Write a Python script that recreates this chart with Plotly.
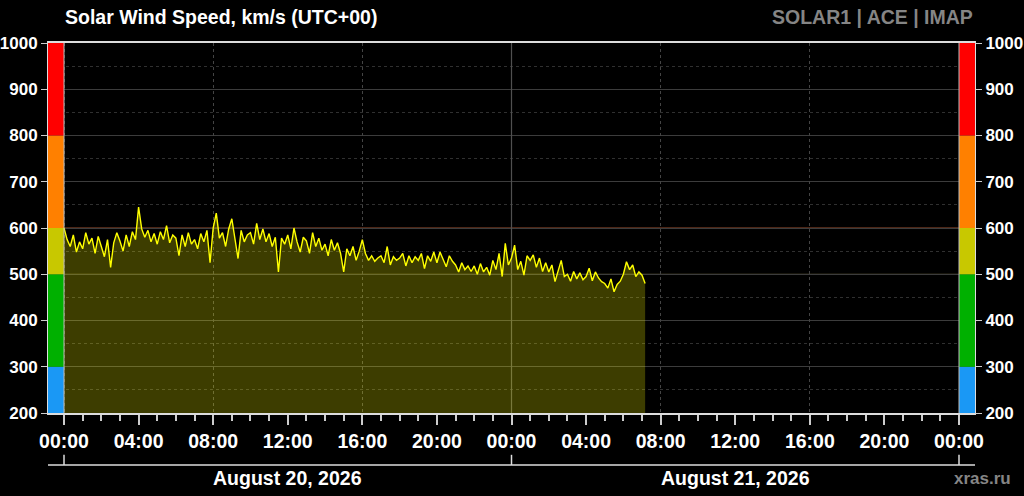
import pandas as pd
import plotly.graph_objects as go

# solar wind speed, km/s, 10-minute samples from 2026-08-20 00:00 UTC
start_time = "2026-08-20 00:00"
speed = [
    600, 575, 560, 585, 548, 570,   # 00h
    555, 590, 565, 578, 545, 582,   # 01h
    560, 538, 575, 515, 568, 590,   # 02h
    572, 550, 585, 560, 592, 575,   # 03h
    645, 598, 580, 595, 570, 588,   # 04h
    565, 592, 575, 605, 568, 585,   # 05h
    578, 540, 585, 560, 590, 565,   # 06h
    575, 555, 588, 570, 595, 525,   # 07h
    600, 632, 578, 590, 560, 598,   # 08h
    620, 575, 534, 595, 570, 585,   # 09h
    590, 565, 610, 575, 598, 570,   # 10h
    588, 560, 580, 505, 578, 565,   # 11h
    585, 555, 600, 570, 548, 580,   # 12h
    572, 545, 590, 560, 578, 552,   # 13h
    565, 540, 575, 552, 568, 545,   # 14h
    505, 555, 540, 560, 530, 550,   # 15h
    575, 545, 530, 540, 528, 535,   # 16h
    540, 525, 560, 520, 538, 530,   # 17h
    535, 545, 518, 540, 525, 538,   # 18h
    530, 545, 512, 540, 528, 548,   # 19h
    525, 548, 530, 516, 540, 528,   # 20h
    520, 505, 525, 510, 518, 506,   # 21h
    518, 500, 523, 505, 515, 498,   # 22h
    530, 510, 545, 495, 567, 520,   # 23h
    535, 563, 510, 528, 498, 540,   # 00h Aug 21
    530, 542, 515, 535, 506, 525,   # 01h
    505, 520, 484, 510, 530, 495,   # 02h
    500, 485, 506, 490, 503, 488,   # 03h
    495, 513, 486, 505, 492, 484,   # 04h
    480, 470, 490, 462, 478, 485,   # 05h
    500, 527, 510, 520, 495, 505,   # 06h
    498, 480,                       # 07h
]
times = pd.date_range(start_time, periods=len(speed), freq="10min")

# speed bands shown as colour bars on both sides
band_lo = [200, 300, 500, 600, 800]
band_hi = [300, 500, 600, 800, 1000]
band_colors = ["#1a98f5", "#00b000", "#c8c800", "#ff8000", "#ff0000"]

# threshold lines drawn in their own colours
level_values = [500, 600, 800]
level_colors = ["#625834", "#9a4c2c", "#9a2222"]

y_ticks = [200, 300, 400, 500, 600, 700, 800, 900, 1000]
days = pd.to_datetime(["2026-08-20", "2026-08-21", "2026-08-22"])
day_labels = ["August 20, 2026", "August 21, 2026"]

pad = pd.Timedelta(minutes=51.5)
x_range = [days[0] - pad, days[-1] + pad]

FONT = "Liberation Sans, Arial"
big_font = dict(family=FONT, size=19.5, color="white", weight="bold")
y_font = dict(family=FONT, size=17, color="white", weight="bold")

fig = go.Figure()

fig.add_trace(go.Scatter(
    x=times, y=speed, mode="lines",
    line=dict(color="#ffff00", width=1.4),
    fill="tozeroy", fillcolor="rgba(255,255,0,0.24)",
    showlegend=False,
))
# dummy trace so the overlay axes (dotted grid / right labels) exist
fig.add_trace(go.Scatter(
    x=[times[0]], y=[None], xaxis="x2", yaxis="y2",
    showlegend=False, hoverinfo="skip",
))

# coloured threshold lines (above the grid, below the data)
for val, col in zip(level_values, level_colors):
    fig.add_shape(type="line", xref="paper", x0=0, x1=1, yref="y", y0=val, y1=val,
                  line=dict(color=col, width=1.2), layer="between")

# solid day boundary line
for d in days[1:-1]:
    fig.add_shape(type="line", xref="x", x0=d, x1=d, yref="y", y0=200, y1=1000,
                  line=dict(color="#505050", width=1.2), layer="between")

# colour bars left and right
for lo, hi, col in zip(band_lo, band_hi, band_colors):
    fig.add_shape(type="rect", xref="x", x0=x_range[0], x1=days[0], yref="y", y0=lo, y1=hi,
                  fillcolor=col, line_width=0, layer="between")
    fig.add_shape(type="rect", xref="x", x0=days[-1], x1=x_range[1], yref="y", y0=lo, y1=hi,
                  fillcolor=col, line_width=0, layer="between")
for d in [days[0], days[-1]]:
    fig.add_shape(type="line", xref="x", x0=d, x1=d, yref="y", y0=200, y1=1000,
                  line=dict(color="#bbbbbb", width=1), layer="above")

# second (date) axis under the hours
date_axis_y = -0.1405
fig.add_shape(type="line", xref="paper", x0=0, x1=1, yref="paper", y0=date_axis_y, y1=date_axis_y,
              line=dict(color="#dddddd", width=1.5))
for d in days:
    fig.add_shape(type="line", xref="x", x0=d, x1=d, yref="paper", y0=date_axis_y, y1=-0.113,
                  line=dict(color="#dddddd", width=1.5))
for d, lab in zip(days[:-1], day_labels):
    fig.add_annotation(x=d + pd.Timedelta(hours=12), xref="x", y=-0.176, yref="paper",
                       text=lab, showarrow=False, yanchor="middle", font=big_font)

fig.add_annotation(x=1, xref="paper", y=1.07, yref="paper", xanchor="right", yanchor="middle",
                   text="SOLAR1 | ACE | IMAP", showarrow=False,
                   font=dict(family=FONT, size=19.5, color="#858585", weight="bold"))
fig.add_annotation(x=1.041, xref="paper", y=-0.176, yref="paper", xanchor="right", yanchor="middle",
                   text="xras.ru", showarrow=False,
                   font=dict(family=FONT, size=17, color="#858585", weight="bold"))

fig.update_layout(
    width=1024, height=496,
    margin=dict(l=48, r=49, t=43, b=83, autoexpand=False),
    paper_bgcolor="black", plot_bgcolor="black",
    title=dict(text="Solar Wind Speed, km/s (UTC+00)", x=65 / 1024, xanchor="left",
               y=1 - 17 / 496, yanchor="middle", font=big_font),
    xaxis=dict(
        type="date", range=x_range, tick0=days[0], dtick=4 * 3600000, tickformat="%H:%M",
        ticks="outside", ticklen=10, tickwidth=1.5, tickcolor="#cccccc",
        minor=dict(dtick=3600000, ticks="outside", ticklen=6, tickcolor="#cccccc", tickwidth=1.5),
        showgrid=False, zeroline=False, automargin=False,
        showline=True, linecolor="#dddddd", linewidth=1.5, mirror=True,
        tickfont=big_font,
    ),
    xaxis2=dict(
        type="date", overlaying="x", matches="x", range=x_range, tick0=days[0], dtick=8 * 3600000,
        showgrid=True, griddash="dot", gridcolor="#444444", gridwidth=1,
        showticklabels=False, ticks="", zeroline=False, showline=False, automargin=False,
    ),
    yaxis=dict(
        range=[200, 1000], tickvals=y_ticks, ticks="outside", ticklen=6, tickcolor="#cccccc",
        showgrid=True, gridcolor="#3c3c3c", gridwidth=1, zeroline=False, automargin=False,
        minor=dict(tick0=250, dtick=100, showgrid=True, griddash="dot", gridcolor="#303030", ticks=""),
        showline=True, linecolor="#dddddd", linewidth=1, mirror=True,
        tickfont=y_font,
    ),
    yaxis2=dict(
        overlaying="y", side="right", range=[200, 1000], tickvals=y_ticks, automargin=False,
        ticks="outside", ticklen=6, tickcolor="#cccccc", showgrid=False, zeroline=False,
        tickfont=y_font,
    ),
)

# drop the default page margin so the figure sits at the window's corner
fig.write_html("out.html", config={"displayModeBar": False},
               post_script="document.body.style.margin='0';")
